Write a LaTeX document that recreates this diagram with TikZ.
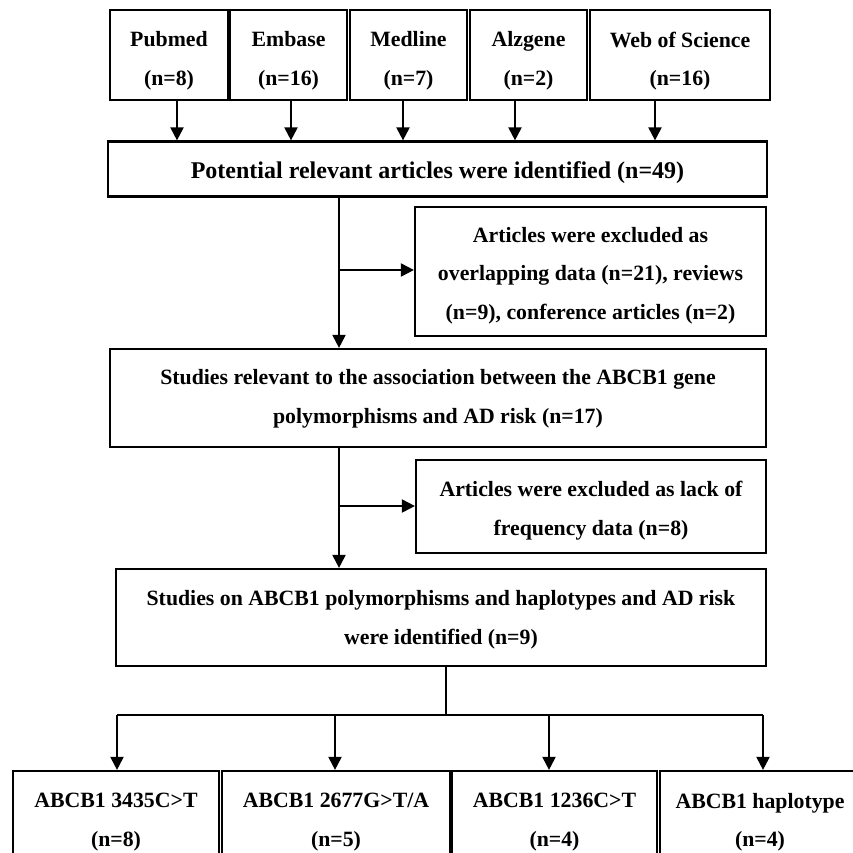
\documentclass[tikz,border=0pt]{standalone}
\usepackage{fontspec}
\setmainfont{Liberation Serif}
\usetikzlibrary{arrows.meta}
\tikzset{
  box/.style={draw=black, line width=2.2pt, fill=white, inner sep=0pt},
  txt/.style={inner sep=0pt, align=center, font=\fontsize{21.8}{38.5}\selectfont\bfseries},
  bigtxt/.style={inner sep=0pt, align=center, font=\fontsize{24}{38.5}\selectfont\bfseries},
  arr/.style={line width=2pt, -{Triangle[width=13pt,length=13pt]}},
  ln/.style={line width=2pt}
}
\begin{document}
\begin{tikzpicture}[x=1pt,y=-1pt]
\useasboundingbox (0,0) rectangle (853,852);
\clip (0,0) rectangle (853,852);
\fill[white] (0,0) rectangle (853,852);
% sources
\node[box, minimum width=118, minimum height=90] (pub) at (169,55) {};
\node[box, minimum width=117, minimum height=90] (emb) at (288.5,55) {};
\node[box, minimum width=117, minimum height=90] (med) at (408.5,55) {};
\node[box, minimum width=117, minimum height=90] (alz) at (528.5,55) {};
\node[box, minimum width=180, minimum height=90] (wos) at (680,55) {};
\node[txt] (pubt) at ([yshift=-6pt]pub.center) {Pubmed\\(n=8)};
\node[txt] (embt) at ([yshift=-6pt]emb.center) {Embase\\(n=16)};
\node[txt] (medt) at ([yshift=-6pt]med.center) {Medline\\(n=7)};
\node[txt] (alzt) at ([yshift=-6pt]alz.center) {Alzgene\\(n=2)};
\node[txt] (wost) at ([yshift=-6pt]wos.center) {Web of Science\\(n=16)};
% main flow
\node[box, minimum width=659, minimum height=55] (pot) at (437.5,169) {};
\node[bigtxt] (pott) at ([yshift=-4pt]pot.center) {Potential relevant articles were identified (n=49)};
\node[box, minimum width=351, minimum height=129] (exc1) at (590.5,271.5) {};
\node[txt] (exc1t) at ([yshift=-4pt]exc1.center) {Articles were excluded as\\overlapping data (n=21), reviews\\(n=9), conference articles (n=2)};
\node[box, minimum width=656, minimum height=98] (stu) at (438,398) {};
\node[txt] (stut) at ([yshift=-1pt]stu.center) {Studies relevant to the association between the ABCB1 gene\\polymorphisms and AD risk (n=17)};
\node[box, minimum width=350, minimum height=93] (exc2) at (591,506.5) {};
\node[txt] (exc2t) at ([yshift=-4pt]exc2.center) {Articles were excluded as lack of\\frequency data (n=8)};
\node[box, minimum width=650, minimum height=97] (fin) at (441,617.5) {};
\node[txt] (fint) at ([yshift=-2pt]fin.center) {Studies on ABCB1 polymorphisms and haplotypes and AD risk\\were identified (n=9)};
% outcomes
\node[box, minimum width=206, minimum height=100] (o1) at (116,821) {};
\node[box, minimum width=228, minimum height=100] (o2) at (336,821) {};
\node[box, minimum width=205, minimum height=100] (o3) at (554.5,821) {};
\node[box, minimum width=210, minimum height=100] (o4) at (765,821) {};
\node[txt] (o1t) at ([yshift=-1pt]o1.center) {ABCB1 3435C>T\\(n=8)};
\node[txt] (o2t) at ([yshift=-1pt]o2.center) {ABCB1 2677G>T/A\\(n=5)};
\node[txt] (o3t) at ([yshift=-1pt]o3.center) {ABCB1 1236C>T\\(n=4)};
\node[txt] (o4t) at ([yshift=-1pt,xshift=-5pt]o4.center) {ABCB1 haplotype\\(n=4)};
% source arrows
\draw[arr] ([xshift=8pt]pub.south) -- ([xshift=8pt]pub.south |- pot.north);
\draw[arr] ([xshift=2.5pt]emb.south) -- ([xshift=2.5pt]emb.south |- pot.north);
\draw[arr] ([xshift=-5.5pt]med.south) -- ([xshift=-5.5pt]med.south |- pot.north);
\draw[arr] ([xshift=-13.5pt]alz.south) -- ([xshift=-13.5pt]alz.south |- pot.north);
\draw[arr] ([xshift=-25pt]wos.south) -- ([xshift=-25pt]wos.south |- pot.north);
% flow
\coordinate (j1) at (339,270);
\coordinate (j2) at (339,506);
\draw[arr] (pot.south -| j1) -- (stu.north -| j1);
\draw[arr] (j1) -- (exc1.west |- j1);
\draw[arr] (stu.south -| j2) -- (fin.north -| j2);
\draw[arr] (j2) -- (exc2.west |- j2);
% split
\coordinate (s) at (446,715);
\draw[ln] (fin.south -| s) -- (s);
\draw[ln] (s -| 117,0) -- (s -| 763,0);
\draw[arr] (s -| 117,0) -- (o1.north -| 117,0);
\draw[arr] (s -| 335,0) -- (o2.north -| 335,0);
\draw[arr] (s -| 549,0) -- (o3.north -| 549,0);
\draw[arr] (s -| 763,0) -- (o4.north -| 763,0);
\end{tikzpicture}
\end{document}
